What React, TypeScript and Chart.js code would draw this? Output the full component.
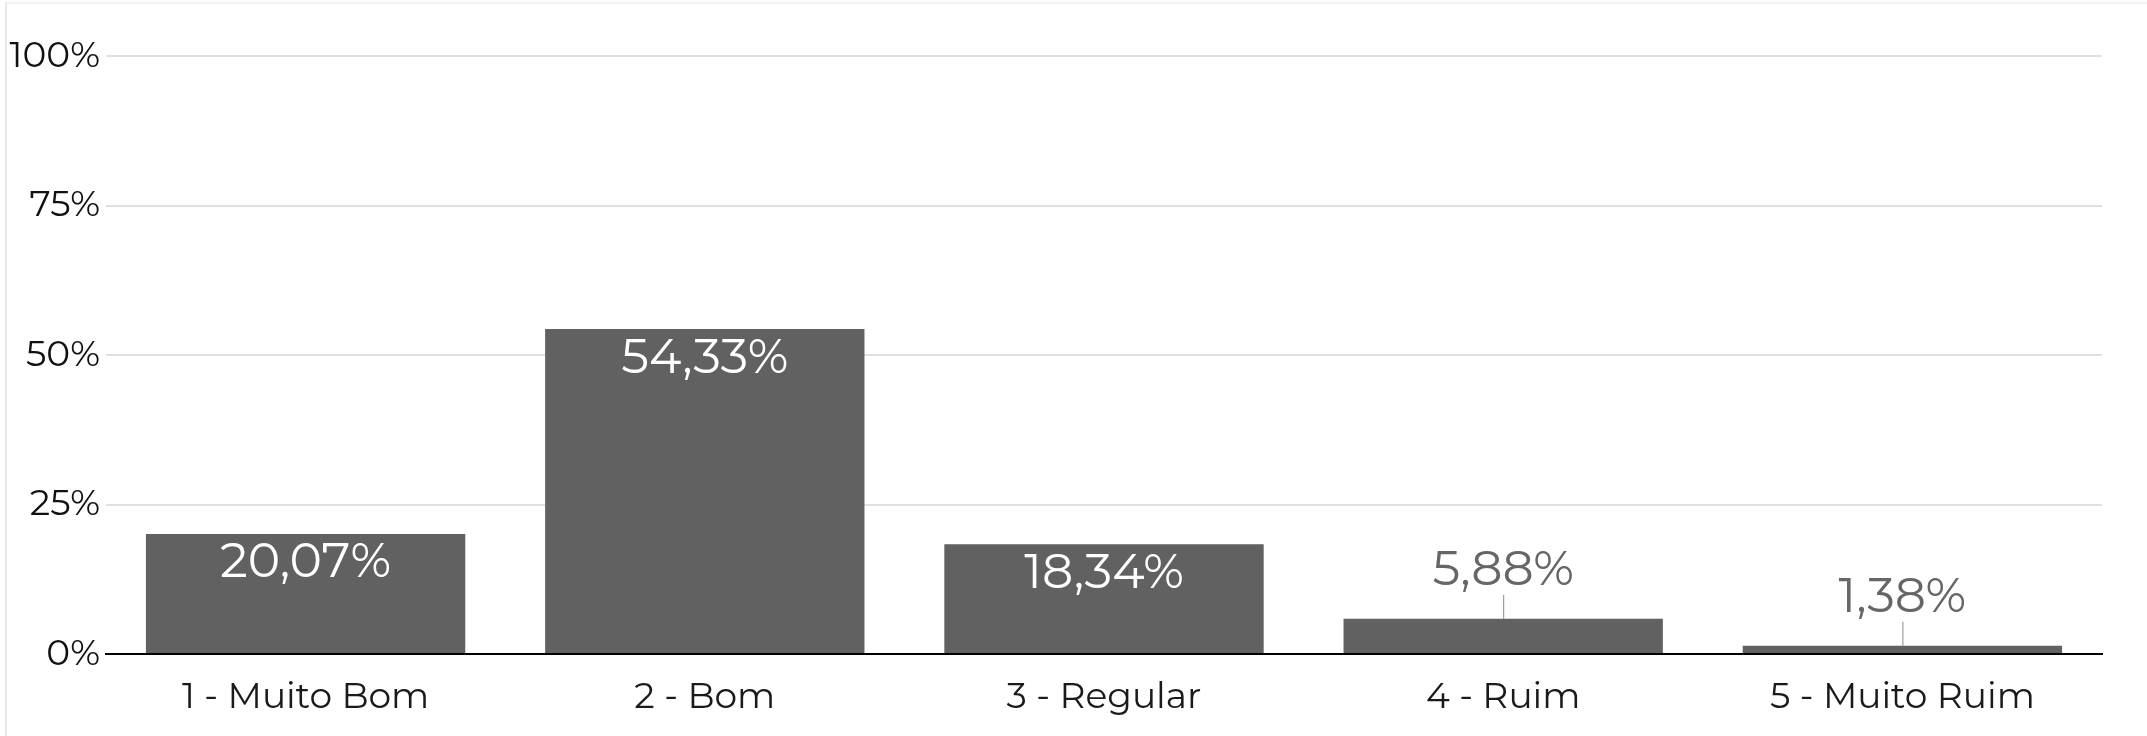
import React, { useEffect, useRef } from "react";
import { Chart, registerables } from "chart.js";

Chart.register(...registerables);

const categories = ["1 - Muito Bom", "2 - Bom", "3 - Regular", "4 - Ruim", "5 - Muito Ruim"];
const values = [20.07, 54.33, 18.34, 5.88, 1.38];
const yTickValues = [0, 25, 50, 75, 100];

const FONT = "Montserrat, 'Open Sans', sans-serif";

const fmt = (v: number) => v.toFixed(2).replace(".", ",") + "%";

const labelPlugin = {
  id: "barLabels",
  afterDatasetsDraw(chart: any) {
    const ctx = chart.ctx;
    const meta = chart.getDatasetMeta(0);
    ctx.save();
    ctx.font = `49px ${FONT}`;
    ctx.textAlign = "center";
    ctx.textBaseline = "middle";
    meta.data.forEach((bar: any, i: number) => {
      const v = values[i];
      const h = bar.base - bar.y;
      if (h > 70) {
        ctx.fillStyle = "#ffffff";
        ctx.fillText(fmt(v), bar.x, bar.y + 29);
      } else {
        ctx.strokeStyle = "#8a8a8a";
        ctx.lineWidth = 1;
        ctx.beginPath();
        ctx.moveTo(bar.x + 0.5, bar.y);
        ctx.lineTo(bar.x + 0.5, bar.y - 24);
        ctx.stroke();
        ctx.fillStyle = "#666666";
        ctx.fillText(fmt(v), bar.x, bar.y - 48);
      }
    });
    ctx.restore();
  },
};

export default function App() {
  const ref = useRef<HTMLCanvasElement>(null);
  useEffect(() => {
    if (!ref.current) return;
    const chart = new Chart(ref.current, {
      type: "bar",
      data: {
        labels: categories,
        datasets: [
          {
            data: values,
            backgroundColor: "#616161",
            categoryPercentage: 0.8,
            barPercentage: 1,
          },
        ],
      },
      options: {
        animation: false,
        responsive: true,
        maintainAspectRatio: false,
        layout: { padding: { top: 56, right: 45, left: 0, bottom: 0 } },
        plugins: { legend: { display: false }, tooltip: { enabled: false } },
        scales: {
          x: {
            grid: { display: false, drawTicks: false },
            border: { display: true, color: "#000000", width: 2 },
            ticks: { color: "#1a1a1a", font: { family: FONT, size: 36 }, padding: 22 },
            afterFit: (s: any) => {
              s.height = 82;
            },
          },
          y: {
            min: 0,
            max: 100,
            afterBuildTicks: (s: any) => {
              s.ticks = yTickValues.map((v) => ({ value: v }));
            },
            grid: { color: "#e0e0e0", lineWidth: 2, drawTicks: false },
            border: { display: false },
            ticks: {
              color: "#111111",
              font: { family: FONT, size: 36 },
              padding: 6,
              callback: (v: any) => v + "%",
            },
            afterFit: (s: any) => {
              s.width = 106;
            },
          },
        },
      },
      plugins: [labelPlugin],
    });
    return () => chart.destroy();
  }, []);
  return (
    <div style={{ position: "fixed", left: 0, top: 0, width: 2147, height: 736, background: "#fff" }}>
      <canvas ref={ref} style={{ position: "absolute", left: 0, top: 0 }} />
      <div
        style={{
          position: "absolute",
          left: 5,
          top: 2,
          right: 0,
          bottom: 0,
          borderLeft: "2px solid #e6e6e6",
          borderTop: "2px solid #f3f3f3",
          pointerEvents: "none",
        }}
      />
    </div>
  );
}
